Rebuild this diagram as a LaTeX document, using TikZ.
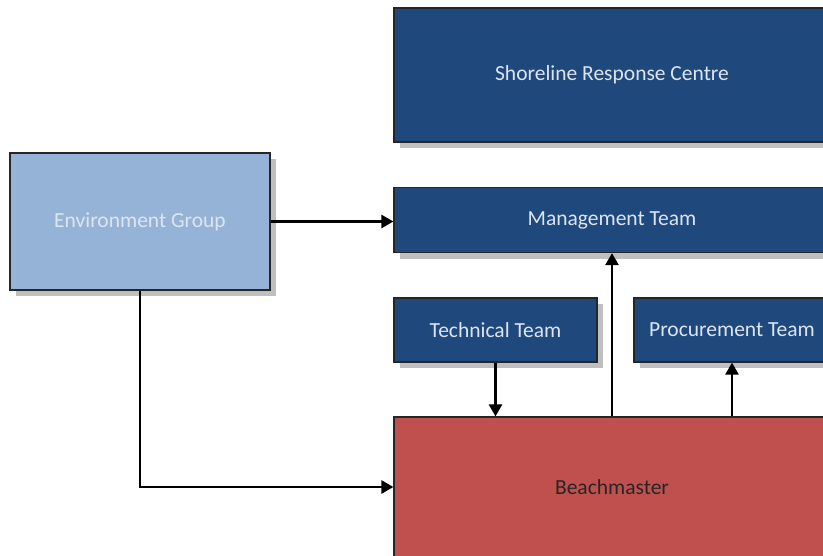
\documentclass[tikz,border=0pt]{standalone}
\usepackage{fontspec}
\setmainfont{Carlito}
\usepackage{xcolor}
\usepackage{tikz}
\usetikzlibrary{arrows.meta,shadows}
\definecolor{darkc}{HTML}{1F487C}
\definecolor{lightc}{HTML}{95B3D7}
\definecolor{redc}{HTML}{C0504D}
\definecolor{paletxt}{HTML}{DCE5F0}
\tikzset{
  ar/.style={-{Triangle[length=12pt,width=13pt]},line width=2.6pt,black},
  box/.style={draw=black!85,line width=1.2pt,align=center,inner sep=0pt,
    font=\fontsize{21.5}{25}\selectfont,
    drop shadow={shadow xshift=6pt,shadow yshift=-6pt,fill=black!25,opacity=1}},
  bluebox/.style={box,fill=darkc,text=paletxt},
  envbox/.style={box,fill=lightc,text=paletxt},
  redbox/.style={box,fill=redc,text=black!85}
}
\begin{document}
\begin{tikzpicture}[x=1pt,y=-1pt]
\useasboundingbox (0,0) rectangle (823,555);
\clip (0,0) rectangle (823,555);
\node[bluebox,minimum width=436pt,minimum height=134pt] (src) at (612,75) {Shoreline Response Centre};
\node[bluebox,minimum width=436pt,minimum height=65pt] (mgmt) at (612,220) {Management Team};
\node[envbox,minimum width=260pt,minimum height=137pt] (env) at (140,221.5) {Environment Group};
\node[bluebox,minimum width=203pt,minimum height=64pt] (tech) at (495.5,330) {Technical Team};
\node[bluebox,minimum width=196pt,minimum height=64pt] (proc) at (732,330) {Procurement Team};
\node[redbox,minimum width=436pt,minimum height=140pt] (beach) at (612,487) {Beachmaster};
% connectors
\draw[ar] (env.east) -- (env.east -| mgmt.west);
\draw[ar] (env.south) |- (beach.west);
\draw[ar] (tech.south) -- (tech.south |- beach.north);
\draw[ar] (beach.north) -- (mgmt.south);
\draw[ar] (proc.south |- beach.north) -- (proc.south);
\end{tikzpicture}
\end{document}
